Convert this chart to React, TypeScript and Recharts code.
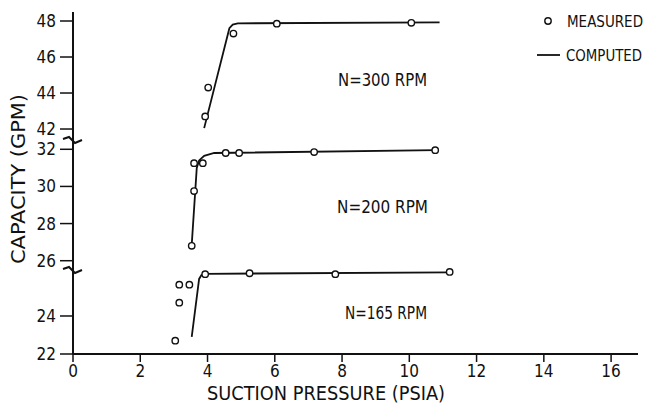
import { ComposedChart, Line, XAxis, YAxis } from 'recharts';

// suction pressure (psia) vs capacity (gpm)
const pressure300Measured = [3.93, 4.02, 4.77, 6.06, 10.06];
const capacity300Measured = [42.7, 44.3, 47.3, 47.85, 47.9];
const pressure300Computed = [3.9, 4.65, 4.75, 4.9, 10.9];
const capacity300Computed = [42.05, 47.6, 47.8, 47.87, 47.92];

const pressure200Measured = [3.53, 3.6, 3.6, 3.86, 4.54, 4.94, 7.17, 10.77];
const capacity200Measured = [26.8, 29.75, 31.25, 31.25, 31.8, 31.8, 31.85, 31.95];
const pressure200Computed = [3.53, 3.68, 3.75, 3.9, 4.2, 10.8];
const capacity200Computed = [26.85, 31.0, 31.4, 31.65, 31.8, 31.95];

const pressure165Measured = [3.04, 3.16, 3.16, 3.46, 3.93, 5.25, 7.8, 11.2];
const capacity165Measured = [22.7, 24.7, 25.65, 25.65, 26.2, 26.25, 26.2, 26.32];
const pressure165Computed = [3.53, 3.75, 3.82, 3.95, 11.2];
const capacity165Computed = [22.9, 25.95, 26.15, 26.22, 26.3];

const xTicks = [0, 2, 4, 6, 8, 10, 12, 14, 16];
const topTicks = [42, 44, 46, 48];
const midTicks = [26, 28, 30, 32];
const lowTicks = [22, 24];

const FONT = '"Liberation Sans Narrow", "DejaVu Sans Condensed", "Arial Narrow", sans-serif';
const INK = '#111';
const X_DOMAIN: [number, number] = [0, 16.8];

const toPoints = (xs: number[], ys: number[]) => xs.map((x, i) => ({ x, y: ys[i] }));

interface SegmentProps {
  top: number;
  height: number;
  margin: { top: number; bottom: number };
  domain: [number, number];
  ticks: number[];
  measured: { x: number; y: number }[];
  computed: { x: number; y: number }[];
  showX?: boolean;
}

function Segment({ top, height, margin, domain, ticks, measured, computed, showX }: SegmentProps) {
  return (
    <div style={{ position: 'absolute', left: 0, top, width: 648, height }}>
      <ComposedChart
        width={648}
        height={height}
        margin={{ top: margin.top, right: 10, bottom: margin.bottom, left: 0 }}
      >
        <XAxis
          type="number"
          dataKey="x"
          domain={X_DOMAIN}
          ticks={xTicks}
          hide={!showX}
          height={51}
          tickSize={8}
          tickMargin={3}
          axisLine={{ stroke: INK, strokeWidth: 2 }}
          tickLine={{ stroke: INK, strokeWidth: 1.5 }}
          tick={{ fontSize: 17, fill: INK, fontFamily: FONT }}
        />
        <YAxis
          type="number"
          dataKey="y"
          width={73}
          domain={domain}
          ticks={ticks}
          tickSize={13}
          tickMargin={4}
          axisLine={{ stroke: INK, strokeWidth: 2 }}
          tickLine={{ stroke: INK, strokeWidth: 1.5 }}
          tick={{ fontSize: 17, fill: INK, fontFamily: FONT }}
        />
        <Line
          data={computed}
          dataKey="y"
          type="linear"
          stroke={INK}
          strokeWidth={1.8}
          dot={false}
          isAnimationActive={false}
        />
        <Line
          data={measured}
          dataKey="y"
          stroke="none"
          dot={{ r: 3.2, fill: '#fff', stroke: INK, strokeWidth: 1.4 }}
          activeDot={false}
          isAnimationActive={false}
        />
      </ComposedChart>
    </div>
  );
}

export default function App() {
  return (
    <div style={{ position: 'absolute', left: 0, top: 0, width: 648, height: 405, background: '#fff' }}>
      <Segment
        top={0}
        height={150}
        margin={{ top: 12, bottom: 10 }}
        domain={[41.39, 48.5]}
        ticks={topTicks}
        measured={toPoints(pressure300Measured, capacity300Measured)}
        computed={toPoints(pressure300Computed, capacity300Computed)}
      />
      <Segment
        top={130}
        height={150}
        margin={{ top: 10, bottom: 10 }}
        domain={[25.5, 32.5]}
        ticks={midTicks}
        measured={toPoints(pressure200Measured, capacity200Measured)}
        computed={toPoints(pressure200Computed, capacity200Computed)}
      />
      <Segment
        top={255}
        height={150}
        margin={{ top: 15, bottom: 0 }}
        domain={[22, 26.42]}
        ticks={lowTicks}
        measured={toPoints(pressure165Measured, capacity165Measured)}
        computed={toPoints(pressure165Computed, capacity165Computed)}
        showX
      />
      <svg
        width={648}
        height={405}
        style={{ position: 'absolute', left: 0, top: 0, pointerEvents: 'none' }}
        fontFamily={FONT}
        fill={INK}
      >
        {/* axis breaks */}
        <path d="M63,139 L69,137 L75,143 L82,140" fill="none" stroke={INK} strokeWidth={2} />
        <path d="M63,269 L69,267 L75,273 L82,270" fill="none" stroke={INK} strokeWidth={2} />

        <text
          x={18}
          y={179}
          transform="rotate(-90 18 179)"
          textAnchor="middle"
          dominantBaseline="central"
          fontSize={20}
          textLength={170}
          lengthAdjust="spacingAndGlyphs"
        >
          CAPACITY (GPM)
        </text>
        <text x={326} y={400} textAnchor="middle" fontSize={19} textLength={238} lengthAdjust="spacingAndGlyphs">
          SUCTION PRESSURE (PSIA)
        </text>

        <text x={338} y={86} fontSize={17} textLength={89} lengthAdjust="spacingAndGlyphs">N=300 RPM</text>
        <text x={337} y={213} fontSize={17} textLength={91} lengthAdjust="spacingAndGlyphs">N=200 RPM</text>
        <text x={345} y={319} fontSize={17} textLength={82} lengthAdjust="spacingAndGlyphs">N=165 RPM</text>

        {/* legend */}
        <circle cx={548} cy={21} r={3.2} fill="#fff" stroke={INK} strokeWidth={1.4} />
        <text x={567} y={27} fontSize={16} textLength={76} lengthAdjust="spacingAndGlyphs">MEASURED</text>
        <line x1={537} y1={55} x2={560} y2={55} stroke={INK} strokeWidth={1.8} />
        <text x={566} y={61} fontSize={16} textLength={76} lengthAdjust="spacingAndGlyphs">COMPUTED</text>
      </svg>
    </div>
  );
}
